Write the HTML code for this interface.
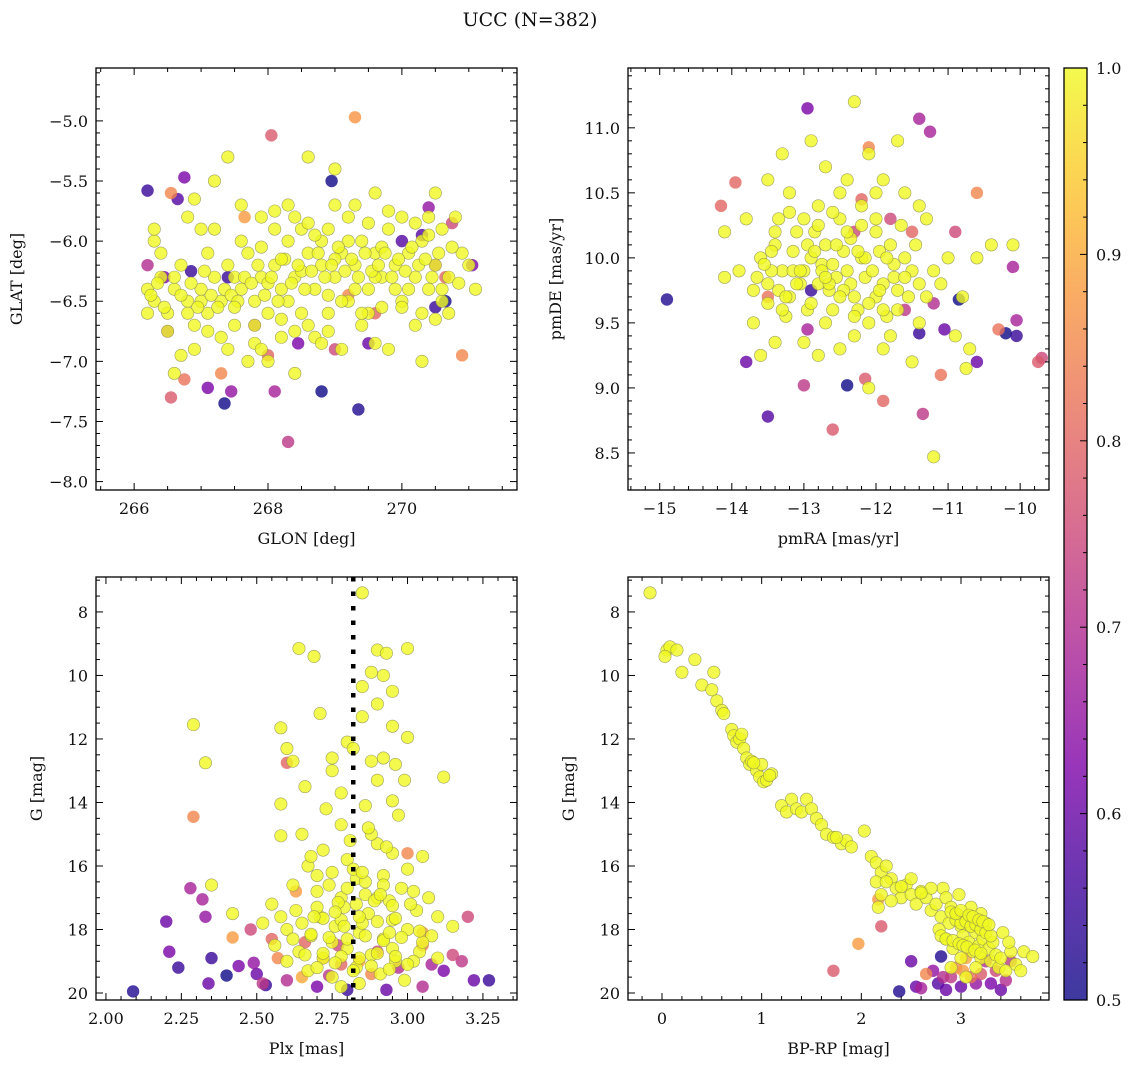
<!DOCTYPE html>
<html><head><meta charset="utf-8"><style>
html,body{margin:0;padding:0;background:#fff;}
svg text{font-family:"DejaVu Serif","Liberation Serif",serif;fill:#111;}
</style></head><body>
<svg id="fig" width="1136" height="1067" xmlns="http://www.w3.org/2000/svg">
<text x="530" y="26" font-size="19" text-anchor="middle">UCC (N=382)</text>
</svg>
<script>
// ---- data: panel 1 (GLON, GLAT) ----
const p1Glon=[266.2,266.3,266.4,266.3,266.5,266.6,266.7,266.8,266.9,267.0,267.1,267.2,267.3,267.4,267.5,267.6,267.7,267.8,267.9,268.0,268.1,268.2,268.3,268.4,268.5,268.6,268.7,268.8,268.9,269.0,269.1,269.2,269.3,269.4,269.5,269.6,269.7,269.8,269.9,270.0,270.1,270.2,270.3,270.4,270.5,270.6,270.7,270.8,271.0,271.1,266.2,266.6,266.9,267.0,267.2,267.4,267.4,267.6,267.7,267.9,268.0,268.2,268.3,268.4,268.5,268.6,268.7,268.9,269.0,269.1,269.3,269.4,269.6,269.8,270.0,270.2,270.3,270.5,270.7,270.9,266.4,266.8,267.1,267.3,267.8,268.1,268.8,269.2,269.5,269.9,270.4,270.6,268.0,268.5,269.0,269.6,267.5,267.0,268.3,269.3,270.1,267.9,268.7,269.7,
266.25,266.35,266.45,266.6,266.7,266.85,266.95,267.05,267.15,267.25,267.35,267.45,267.55,267.65,267.75,267.85,267.95,268.05,268.15,268.25,268.35,268.45,268.55,268.65,268.75,268.85,268.95,269.05,269.15,269.25,269.35,269.45,269.55,269.65,269.75,269.85,269.95,270.05,270.15,270.25,270.35,270.45,270.55,270.75,270.85,266.5,266.8,267.1,267.5,267.8,268.2,268.4,268.6,268.9,269.1,269.4,269.7,270.0,270.3,270.6,266.3,266.9,267.6,268.1,268.6,269.2,269.8,270.4,267.2,268.4,269.0,269.5,270.2,266.7,267.9,268.8,269.6,270.5,268.2,268.9,
266.2,266.2,266.5,266.55,266.65,266.75,266.85,266.55,266.75,267.1,267.3,267.35,267.45,267.4,267.8,268.05,268.1,268.3,268.45,268.8,268.95,269.0,269.3,269.35,269.5,269.6,269.2,270.0,270.3,270.4,270.5,270.5,270.65,270.65,270.75,270.9,271.05,266.45,267.65,268.0];
const p1Glat=[-6.4,-6.5,-6.3,-6.0,-6.6,-6.4,-6.2,-6.5,-6.7,-6.4,-6.6,-6.3,-6.5,-6.2,-6.7,-6.4,-6.1,-6.5,-6.3,-6.6,-6.2,-6.4,-6.0,-6.3,-6.6,-6.1,-6.4,-6.2,-5.9,-6.3,-6.1,-6.5,-6.2,-6.0,-6.4,-6.1,-6.3,-5.9,-6.2,-6.5,-6.1,-6.3,-6.0,-6.4,-6.2,-5.9,-6.3,-5.8,-6.2,-6.4,-6.6,-7.1,-6.9,-5.9,-5.5,-6.9,-5.3,-6.0,-7.0,-5.8,-7.0,-6.8,-5.7,-7.1,-5.9,-5.3,-6.8,-6.6,-5.4,-6.9,-5.7,-6.7,-5.6,-6.9,-5.8,-6.7,-7.0,-5.6,-6.6,-6.1,-6.1,-5.8,-6.1,-6.8,-6.7,-5.9,-6.0,-6.0,-6.6,-6.4,-5.8,-6.5,-6.35,-6.25,-6.15,-6.3,-6.3,-6.5,-6.5,-6.4,-6.4,-6.05,-5.95,-6.05,
-6.45,-6.35,-6.55,-6.3,-6.45,-6.35,-6.55,-6.25,-6.45,-6.55,-6.4,-6.45,-6.5,-6.3,-6.35,-6.2,-6.45,-6.3,-6.5,-6.15,-6.35,-6.2,-6.4,-6.25,-6.1,-6.3,-6.2,-6.05,-6.25,-6.15,-6.3,-6.1,-6.25,-6.2,-6.1,-6.3,-6.15,-6.25,-6.05,-6.2,-6.15,-6.3,-6.1,-6.05,-6.35,-6.75,-6.6,-6.75,-6.55,-6.85,-6.65,-6.75,-6.7,-6.75,-6.5,-6.6,-6.55,-6.55,-6.6,-6.4,-5.9,-5.65,-5.7,-5.75,-5.85,-5.8,-5.75,-5.95,-5.9,-5.8,-5.7,-5.85,-5.85,-6.95,-6.9,-6.85,-6.85,-6.65,-6.15,-6.45,
-5.58,-6.2,-6.75,-5.6,-5.65,-5.47,-6.25,-7.3,-7.15,-7.22,-7.1,-7.35,-7.25,-6.3,-6.7,-5.12,-7.25,-7.67,-6.85,-7.25,-5.5,-6.9,-4.97,-7.4,-6.85,-6.6,-6.45,-6.0,-5.95,-5.72,-6.2,-6.55,-6.3,-6.5,-5.85,-6.95,-6.2,-6.3,-5.8,-6.95];
const p1Prob=[1,1,1,1,1,1,1,1,1,1,1,1,1,1,1,1,1,1,1,1,1,1,1,1,1,1,1,1,1,1,1,1,1,1,1,1,1,1,1,1,1,1,1,1,1,1,1,1,1,1,1,1,1,1,1,1,1,1,1,1,1,1,1,1,1,1,1,1,1,1,1,1,1,1,1,1,1,1,1,1,1,1,1,1,1,1,1,1,1,1,1,1,1,1,1,1,1,1,1,1,1,1,1,1,
1,1,1,1,1,1,1,1,1,1,1,1,1,1,1,1,1,1,1,1,1,1,1,1,1,1,1,1,1,1,1,1,1,1,1,1,1,1,1,1,1,1,1,1,1,1,1,1,1,1,1,1,1,1,1,1,1,1,1,1,1,1,1,1,1,1,1,1,1,1,1,1,1,1,1,1,1,1,1,1,
0.55,0.7,0.65,0.85,0.58,0.62,0.55,0.78,0.82,0.62,0.85,0.5,0.65,0.55,0.68,0.78,0.68,0.72,0.62,0.5,0.5,0.75,0.87,0.52,0.6,0.8,0.85,0.58,0.58,0.65,0.68,0.55,0.8,0.5,0.75,0.85,0.62,0.62,0.88,0.8];
// ---- data: panel 2 (pmRA, pmDE) ----
const p2Pmra=[-13.6,-13.5,-13.4,-13.3,-13.2,-13.1,-13.0,-12.9,-12.8,-12.7,-12.6,-12.5,-12.4,-12.3,-12.2,-12.1,-12.0,-11.9,-11.8,-11.7,-11.6,-11.5,-11.4,-11.3,-11.2,-11.0,-10.8,-10.7,-10.4,-10.1,-13.8,-13.9,-14.1,-14.1,-13.7,-13.6,-13.4,-13.0,-12.8,-12.5,-12.3,-12.1,-11.9,-11.5,-11.2,-11.4,-13.5,-13.3,-12.9,-12.7,-12.5,-12.3,-12.1,-11.9,-11.7,-11.6,-11.3,-13.2,-12.8,-12.4,-12.2,-12.0,-13.7,-13.25,-12.95,-12.75,-12.55,-12.35,-12.15,-11.95,-11.75,-11.55,-13.45,-13.15,-12.85,-12.65,-12.45,-12.25,-11.85,-11.65,-11.45,-10.9,-10.75,-11.1,-10.6,-13.05,-12.6,-12.0,-11.8,-12.7,-13.35,
-13.55,-13.35,-13.15,-12.95,-12.75,-12.55,-12.35,-12.15,-11.95,-11.75,-13.65,-13.45,-13.25,-13.05,-12.85,-12.65,-12.45,-12.25,-12.05,-11.85,-13.5,-13.3,-13.1,-12.9,-12.7,-12.5,-12.3,-12.1,-11.9,-11.7,-13.4,-13.2,-13.0,-12.8,-12.6,-12.4,-12.2,-12.0,-11.6,-11.4,
-14.9,-14.15,-13.95,-13.8,-13.5,-13.0,-12.95,-12.6,-12.4,-12.15,-11.9,-11.6,-11.4,-11.35,-11.25,-11.05,-11.1,-10.85,-10.6,-10.6,-10.3,-10.2,-10.05,-10.05,-10.1,-9.75,-9.7,-12.1,-11.8,-12.9,-12.3,-11.2,-12.2,-11.5,-10.9,-12.95,-13.5,-11.4];
const p2Pmde=[10.0,9.8,10.1,9.9,9.7,10.2,9.9,10.0,9.8,10.1,9.6,10.3,9.9,9.7,10.0,9.5,10.2,9.8,10.1,9.6,10.0,9.9,10.4,9.7,9.9,10.0,9.7,9.3,10.1,10.1,10.3,9.9,10.2,9.85,9.5,9.25,9.35,9.35,9.25,9.3,9.4,9.0,9.3,9.2,8.47,9.5,10.6,10.8,10.9,10.7,10.5,11.2,10.8,10.6,10.9,10.5,10.3,10.5,10.4,10.6,10.4,10.5,9.75,9.55,9.6,9.95,9.85,10.15,9.85,10.05,9.85,9.7,9.9,10.05,10.2,9.75,10.05,9.6,9.55,10.25,10.1,9.4,9.15,9.8,10.0,9.8,9.95,9.7,9.4,9.5,10.3,
9.95,9.75,9.9,10.1,9.9,10.1,9.8,10.0,9.75,9.95,9.85,10.05,9.7,9.9,10.05,9.8,9.75,10.05,9.9,10.0,9.65,9.6,9.8,9.65,9.85,9.7,9.55,9.65,9.6,9.75,10.2,10.35,10.3,10.25,10.35,10.2,10.25,10.3,9.85,9.8,
9.68,10.4,10.58,9.2,8.78,9.02,11.15,8.68,9.02,9.07,8.9,9.6,11.07,8.8,10.97,9.45,9.1,9.68,9.2,10.5,9.45,9.42,9.4,9.52,9.93,9.2,9.23,10.85,10.3,9.75,10.2,9.65,10.45,10.2,10.2,9.45,9.7,9.42];
const p2Prob=[1,1,1,1,1,1,1,1,1,1,1,1,1,1,1,1,1,1,1,1,1,1,1,1,1,1,1,1,1,1,1,1,1,1,1,1,1,1,1,1,1,1,1,1,1,1,1,1,1,1,1,1,1,1,1,1,1,1,1,1,1,1,1,1,1,1,1,1,1,1,1,1,1,1,1,1,1,1,1,1,1,1,1,1,1,1,1,1,1,1,1,
1,1,1,1,1,1,1,1,1,1,1,1,1,1,1,1,1,1,1,1,1,1,1,1,1,1,1,1,1,1,1,1,1,1,1,1,1,1,1,1,
0.52,0.8,0.8,0.6,0.58,0.72,0.62,0.78,0.5,0.78,0.8,0.72,0.68,0.72,0.68,0.6,0.82,0.5,0.6,0.85,0.82,0.5,0.55,0.68,0.68,0.78,0.75,0.85,0.75,0.55,0.75,0.7,0.8,0.8,0.75,0.68,0.82,0.55];
// ---- data: panel 3 (Plx, G) ----
const p3Plx=[2.85,2.64,2.69,2.90,2.93,3.00,2.88,2.92,2.95,2.85,2.90,2.85,2.71,2.58,2.29,2.80,2.95,3.00,2.92,2.60,2.62,2.75,2.82,2.88,2.96,3.12,2.33,2.66,2.75,2.90,2.99,2.58,2.78,2.95,2.86,2.65,2.78,2.58,2.72,2.90,2.80,2.95,3.05,2.67,2.75,2.83,2.92,3.00,2.62,2.70,2.78,2.86,2.94,3.02,2.55,2.63,2.71,2.79,2.87,2.95,3.03,3.10,2.52,2.60,2.68,2.76,2.84,2.92,3.00,3.08,3.15,2.56,2.64,2.72,2.80,2.88,2.96,3.04,2.67,2.75,2.83,2.91,2.99,2.70,2.90,2.85,2.75,2.95,2.65,3.05,2.82,2.78,2.60,3.10,2.70,2.88,2.84,2.35,2.42,
2.74,2.80,2.86,2.92,2.98,2.77,2.83,2.89,2.95,3.01,2.72,2.78,2.84,2.90,2.96,2.68,2.74,2.80,2.86,2.92,2.98,3.04,2.66,2.72,2.78,2.84,2.90,2.96,3.02,2.70,2.76,2.82,2.88,2.94,3.00,2.62,2.58,2.68,2.93,2.97,3.07,2.81,2.87,2.73,2.79,2.85,2.91,2.69,2.76,2.94,
2.09,2.20,2.21,2.24,2.28,2.29,2.32,2.33,2.35,2.34,2.40,2.42,2.44,2.48,2.49,2.50,2.53,2.55,2.57,2.60,2.60,2.63,2.66,2.70,2.72,2.74,2.77,2.78,2.80,2.88,2.90,2.93,2.97,3.00,3.05,3.05,3.08,3.12,3.15,3.18,3.22,3.27,3.20,2.52,2.65,2.84,3.05];
const p3G=[7.4,9.15,9.4,9.2,9.3,9.15,9.9,10.0,10.5,10.35,10.9,11.3,11.2,11.65,11.55,12.1,11.6,11.95,12.6,12.3,12.7,12.6,12.3,12.7,12.8,13.2,12.75,13.5,13.0,13.3,13.3,14.05,13.7,13.95,14.1,15.0,14.7,15.05,15.5,15.3,15.8,15.6,15.7,16.0,16.2,16.4,16.3,16.1,16.6,16.8,17.0,16.9,17.1,16.8,17.2,17.4,17.6,17.3,17.5,17.7,17.4,17.6,17.8,18.0,18.2,17.9,18.1,18.3,18.0,18.2,17.9,18.5,18.7,18.9,18.6,18.8,19.0,18.7,19.3,19.5,19.2,19.4,19.6,17.3,17.0,17.8,18.4,18.6,17.8,18.4,16.1,19.8,19.0,18.9,16.3,15.0,19.7,16.6,17.5,
16.6,16.7,16.5,16.6,16.7,17.15,17.2,17.1,17.25,17.2,17.65,17.7,17.6,17.75,17.65,18.15,18.25,18.3,18.2,18.35,18.25,18.05,18.8,18.75,18.85,18.9,18.75,18.85,19.0,19.2,19.05,19.3,19.15,19.25,19.1,18.3,17.6,15.7,15.4,14.4,17.0,15.2,14.8,14.2,17.9,16.2,16.9,17.6,17.45,18.1,
19.95,17.75,18.7,19.2,16.7,14.45,17.05,17.6,18.9,19.7,19.45,18.25,19.15,18.0,19.05,19.4,19.75,18.3,18.9,12.75,19.6,16.8,18.4,19.8,18.9,19.45,18.5,19.1,19.9,19.4,18.7,19.9,19.2,15.6,18.5,19.8,19.1,19.3,18.8,19.0,19.6,19.6,17.6,19.7,19.5,19.0,18.1];
const p3Prob=[1,1,1,1,1,1,1,1,1,1,1,1,1,1,1,1,1,1,1,1,1,1,1,1,1,1,1,1,1,1,1,1,1,1,1,1,1,1,1,1,1,1,1,1,1,1,1,1,1,1,1,1,1,1,1,1,1,1,1,1,1,1,1,1,1,1,1,1,1,1,1,1,1,1,1,1,1,1,1,1,1,1,1,1,1,1,1,1,1,1,1,1,1,1,1,1,1,1,1,
1,1,1,1,1,1,1,1,1,1,1,1,1,1,1,1,1,1,1,1,1,1,1,1,1,1,1,1,1,1,1,1,1,1,1,1,1,1,1,1,1,1,1,1,1,1,1,1,1,1,
0.52,0.6,0.62,0.55,0.68,0.85,0.68,0.65,0.55,0.6,0.5,0.88,0.62,0.75,0.65,0.6,0.55,0.8,0.85,0.8,0.7,0.88,0.8,0.62,0.85,0.72,0.75,0.8,0.55,0.85,0.75,0.6,0.7,0.85,0.85,0.7,0.68,0.62,0.75,0.72,0.6,0.55,0.75,0.72,0.9,0.9,0.88];
const plxMedian=2.82;
// ---- data: panel 4 (BP-RP, G) ----
const p4Bprp=[-0.12,0.05,0.08,0.03,0.15,0.2,0.33,0.4,0.5,0.52,0.55,0.6,0.62,0.7,0.72,0.75,0.78,0.82,0.85,0.88,0.9,0.95,0.98,1.0,1.02,1.05,1.1,1.2,1.25,1.3,1.35,1.4,1.45,1.5,1.55,1.6,1.65,1.72,1.8,1.85,1.9,2.03,2.1,2.15,2.2,2.15,2.2,2.25,2.3,2.35,2.4,2.45,2.5,2.55,2.6,2.65,2.7,2.75,2.8,2.82,2.85,2.88,2.9,2.95,2.98,3.0,3.02,3.05,3.08,3.1,3.12,3.15,3.18,3.2,3.22,3.25,3.28,3.3,3.32,3.35,3.38,3.4,3.45,3.5,3.55,3.6,3.63,3.72,2.78,2.92,3.0,3.15,3.05,2.9,2.85,3.2,3.1,2.7,2.5,2.3,1.75,2.17,3.42,3.48,
2.95,3.0,3.05,3.1,3.15,3.2,3.25,3.3,2.9,2.95,3.0,3.08,3.12,3.18,3.22,3.28,2.8,2.85,2.92,2.98,3.02,3.06,3.14,3.2,2.25,2.4,2.6,0.8,0.92,1.08,
1.72,1.97,2.2,2.38,2.5,2.55,2.6,2.72,2.77,2.8,2.82,2.85,2.9,3.0,3.02,3.1,3.15,3.2,3.25,3.3,3.35,3.45,3.5,2.17,2.95,3.05,3.4,2.65];
const p4G=[7.4,9.2,9.1,9.4,9.2,9.9,9.5,10.3,10.45,9.9,10.8,11.1,11.2,11.7,11.9,12.1,12.0,12.3,12.6,12.8,12.7,13.0,13.2,12.8,13.35,13.3,13.1,14.1,14.3,13.9,14.2,14.3,13.9,14.2,14.5,14.7,15.0,15.1,15.3,15.2,15.4,14.9,15.7,15.9,16.2,16.5,16.9,16.0,16.4,16.7,17.0,16.6,16.9,17.2,16.8,17.0,17.4,17.2,17.6,16.7,17.0,17.8,17.3,17.5,16.9,17.9,18.2,17.6,18.4,17.9,18.7,18.1,18.5,18.9,18.3,17.8,18.6,19.0,18.4,18.8,19.2,18.9,19.3,18.7,19.1,19.3,18.7,18.85,18.0,18.6,18.9,19.2,19.5,19.2,18.3,17.5,17.3,16.7,16.4,17.1,15.1,17.3,18.1,18.4,
17.7,17.8,17.75,17.9,17.85,18.0,18.1,18.2,17.45,17.5,17.4,17.55,17.6,17.7,17.75,17.85,18.2,18.3,18.35,18.45,18.5,18.55,18.65,18.75,16.5,16.65,16.85,11.85,12.75,13.15,
19.3,18.45,17.9,19.95,19.0,19.8,19.85,19.3,19.7,18.85,19.5,19.9,19.5,19.8,19.3,19.5,19.7,19.4,19.0,19.7,19.3,19.6,19.0,17.05,19.2,18.9,19.9,19.4];
const p4Prob=[1,1,1,1,1,1,1,1,1,1,1,1,1,1,1,1,1,1,1,1,1,1,1,1,1,1,1,1,1,1,1,1,1,1,1,1,1,1,1,1,1,1,1,1,1,1,1,1,1,1,1,1,1,1,1,1,1,1,1,1,1,1,1,1,1,1,1,1,1,1,1,1,1,1,1,1,1,1,1,1,1,1,1,1,1,1,1,1,1,1,1,1,1,1,1,1,1,1,1,1,1,1,1,1,
1,1,1,1,1,1,1,1,1,1,1,1,1,1,1,1,1,1,1,1,1,1,1,1,1,1,1,1,1,1,
0.78,0.88,0.78,0.52,0.6,0.6,0.68,0.65,0.58,0.52,0.7,0.6,0.72,0.6,0.88,0.82,0.65,0.78,0.7,0.62,0.75,0.7,0.72,0.88,0.85,0.9,0.6,0.85];
const cbTicks=[0.5,0.6,0.7,0.8,0.9,1.0];

const NS='http://www.w3.org/2000/svg';
const svg=document.getElementById('fig');
function mk(tag,attrs,parent){const e=document.createElementNS(NS,tag);for(const k in attrs)e.setAttribute(k,attrs[k]);(parent||svg).appendChild(e);return e;}
const stops=[[0,[13,8,135]],[0.125,[65,4,157]],[0.25,[126,3,168]],[0.375,[170,35,149]],[0.5,[204,71,120]],[0.625,[230,108,92]],[0.75,[248,149,64]],[0.875,[253,196,39]],[1,[240,249,33]]];
function plasma(t){t=Math.max(0,Math.min(1,t));for(let i=1;i<stops.length;i++){if(t<=stops[i][0]){const a=stops[i-1],b=stops[i];const f=(t-a[0])/(b[0]-a[0]);return 'rgb('+a[1].map((v,j)=>Math.round(v+(b[1][j]-v)*f)).join(',')+')';}}return 'rgb(240,249,33)';}
function probColor(p){return plasma((p-0.5)/0.5);}
function fmt(v,d){return (v<0?'\u2212':'')+Math.abs(v).toFixed(d);}

function panel(cfg){
  const {name,L,T,R,B,xmin,xmax,ymin,ymax,yrev}=cfg;
  const g=mk('g',{});
  
  
  const sx=v=>L+(v-xmin)/(xmax-xmin)*(R-L);
  const sy=v=>yrev?T+(v-ymin)/(ymax-ymin)*(B-T):B-(v-ymin)/(ymax-ymin)*(B-T);
  const clipId=name+'-clip';
  const cp=mk('clipPath',{id:clipId},g);mk('rect',{x:L,y:T,width:R-L,height:B-T},cp);
  const pts=mk('g',{'clip-path':'url(#'+clipId+')'},g);
  
  
  const idx=cfg.xs.map((_,i)=>i).sort((a,b)=>cfg.ps[a]-cfg.ps[b]);
  idx.forEach(i=>{
    const c=mk('circle',{cx:sx(cfg.xs[i]),cy:sy(cfg.ys[i]),r:6.2,fill:probColor(cfg.ps[i]),'fill-opacity':0.8,stroke:cfg.ps[i]>0.93?'#8a8a50':'none','stroke-width':0.6,'stroke-opacity':0.8},pts);
    
    
  });
  if(cfg.vline!==undefined){
    const ln=mk('line',{x1:sx(cfg.vline),x2:sx(cfg.vline),y1:T,y2:B,stroke:'#000','stroke-width':4.5,'stroke-dasharray':'4.5 10'},pts);
    
    
  }
  mk('rect',{x:L,y:T,width:R-L,height:B-T,fill:'none',stroke:'#000','stroke-width':1.3},g);
  const eps=1e-9;
  for(let v=Math.ceil(xmin/cfg.xminor-eps)*cfg.xminor;v<=xmax+eps;v+=cfg.xminor){
    const x=sx(v);const major=Math.abs(v/cfg.xmajor-Math.round(v/cfg.xmajor))<1e-6;const len=major?7:4;
    mk('line',{x1:x,x2:x,y1:B,y2:B-len,stroke:'#000','stroke-width':1},g);
    mk('line',{x1:x,x2:x,y1:T,y2:T+len,stroke:'#000','stroke-width':1},g);
    if(major){const t=mk('text',{x:x,y:B+24,'font-size':16,'text-anchor':'middle'},g);t.textContent=fmt(v,cfg.xdec);
      }
  }
  for(let v=Math.ceil(ymin/cfg.yminor-eps)*cfg.yminor;v<=ymax+eps;v+=cfg.yminor){
    const y=sy(v);const major=Math.abs(v/cfg.ymajor-Math.round(v/cfg.ymajor))<1e-6;const len=major?7:4;
    mk('line',{x1:L,x2:L+len,y1:y,y2:y,stroke:'#000','stroke-width':1},g);
    mk('line',{x1:R,x2:R-len,y1:y,y2:y,stroke:'#000','stroke-width':1},g);
    if(major){const t=mk('text',{x:L-8,y:y+6,'font-size':16,'text-anchor':'end'},g);t.textContent=fmt(v,cfg.ydec);
      }
  }
  const xl=mk('text',{x:(L+R)/2,y:B+54,'font-size':16,'text-anchor':'middle'},g);xl.textContent=cfg.xlabel;
  
  const yx=cfg.ylx;const yl=mk('text',{x:yx,y:(T+B)/2,'font-size':16,'text-anchor':'middle',transform:'rotate(-90 '+yx+' '+(T+B)/2+')'},g);yl.textContent=cfg.ylabel;
  
}
panel({name:'sky-position-panel',L:96,T:68,R:517,B:490,xmin:265.43,xmax:271.72,ymin:-8.07,ymax:-4.56,xs:p1Glon,ys:p1Glat,ps:p1Prob,xmajor:2,xminor:0.5,ymajor:0.5,yminor:0.1,xdec:0,ydec:1,xlabel:'GLON [deg]',ylabel:'GLAT [deg]',ylx:22});
panel({name:'proper-motion-panel',L:628,T:68,R:1049,B:490,xmin:-15.44,xmax:-9.6,ymin:8.215,ymax:11.46,xs:p2Pmra,ys:p2Pmde,ps:p2Prob,xmajor:1,xminor:0.2,ymajor:0.5,yminor:0.1,xdec:0,ydec:1,xlabel:'pmRA [mas/yr]',ylabel:'pmDE [mas/yr]',ylx:561});
panel({name:'parallax-panel',L:96,T:577,R:517,B:1000,xmin:1.967,xmax:3.363,ymin:6.9,ymax:20.22,yrev:true,xs:p3Plx,ys:p3G,ps:p3Prob,xmajor:0.25,xminor:0.05,ymajor:2,yminor:0.5,xdec:2,ydec:0,xlabel:'Plx [mas]',ylabel:'G [mag]',ylx:42,vline:plxMedian});
panel({name:'cmd-panel',L:628,T:577,R:1049,B:1000,xmin:-0.341,xmax:3.883,ymin:6.9,ymax:20.22,yrev:true,xs:p4Bprp,ys:p4G,ps:p4Prob,xmajor:1,xminor:0.2,ymajor:2,yminor:0.5,xdec:0,ydec:0,xlabel:'BP-RP [mag]',ylabel:'G [mag]',ylx:574});

(function(){
  const L=1064,R=1087,T=68,B=1000;
  const g=mk('g',{});
  
  
  const defs=mk('defs',{},g);
  const lg=mk('linearGradient',{id:'cbgrad',x1:0,y1:1,x2:0,y2:0},defs);
  for(let i=0;i<=20;i++){const t=i/20;mk('stop',{offset:t,'stop-color':plasma(t),'stop-opacity':0.8},lg);}
  mk('rect',{x:L,y:T,width:R-L,height:B-T,fill:'url(#cbgrad)',stroke:'#000','stroke-width':1.3},g);
  const sy=v=>B-(v-0.5)/0.5*(B-T);
  for(let v=0.5;v<=1.0001;v+=0.02){
    const y=sy(v);const major=Math.abs(v*10-Math.round(v*10))<1e-6;const len=major?7:4;
    mk('line',{x1:R,x2:R-len,y1:y,y2:y,stroke:'#000','stroke-width':1},g);
  }
  cbTicks.forEach(v=>{const t=mk('text',{x:R+9,y:sy(v)+6,'font-size':16},g);t.textContent=v.toFixed(1);
    });
})();
</script>
</body></html>
